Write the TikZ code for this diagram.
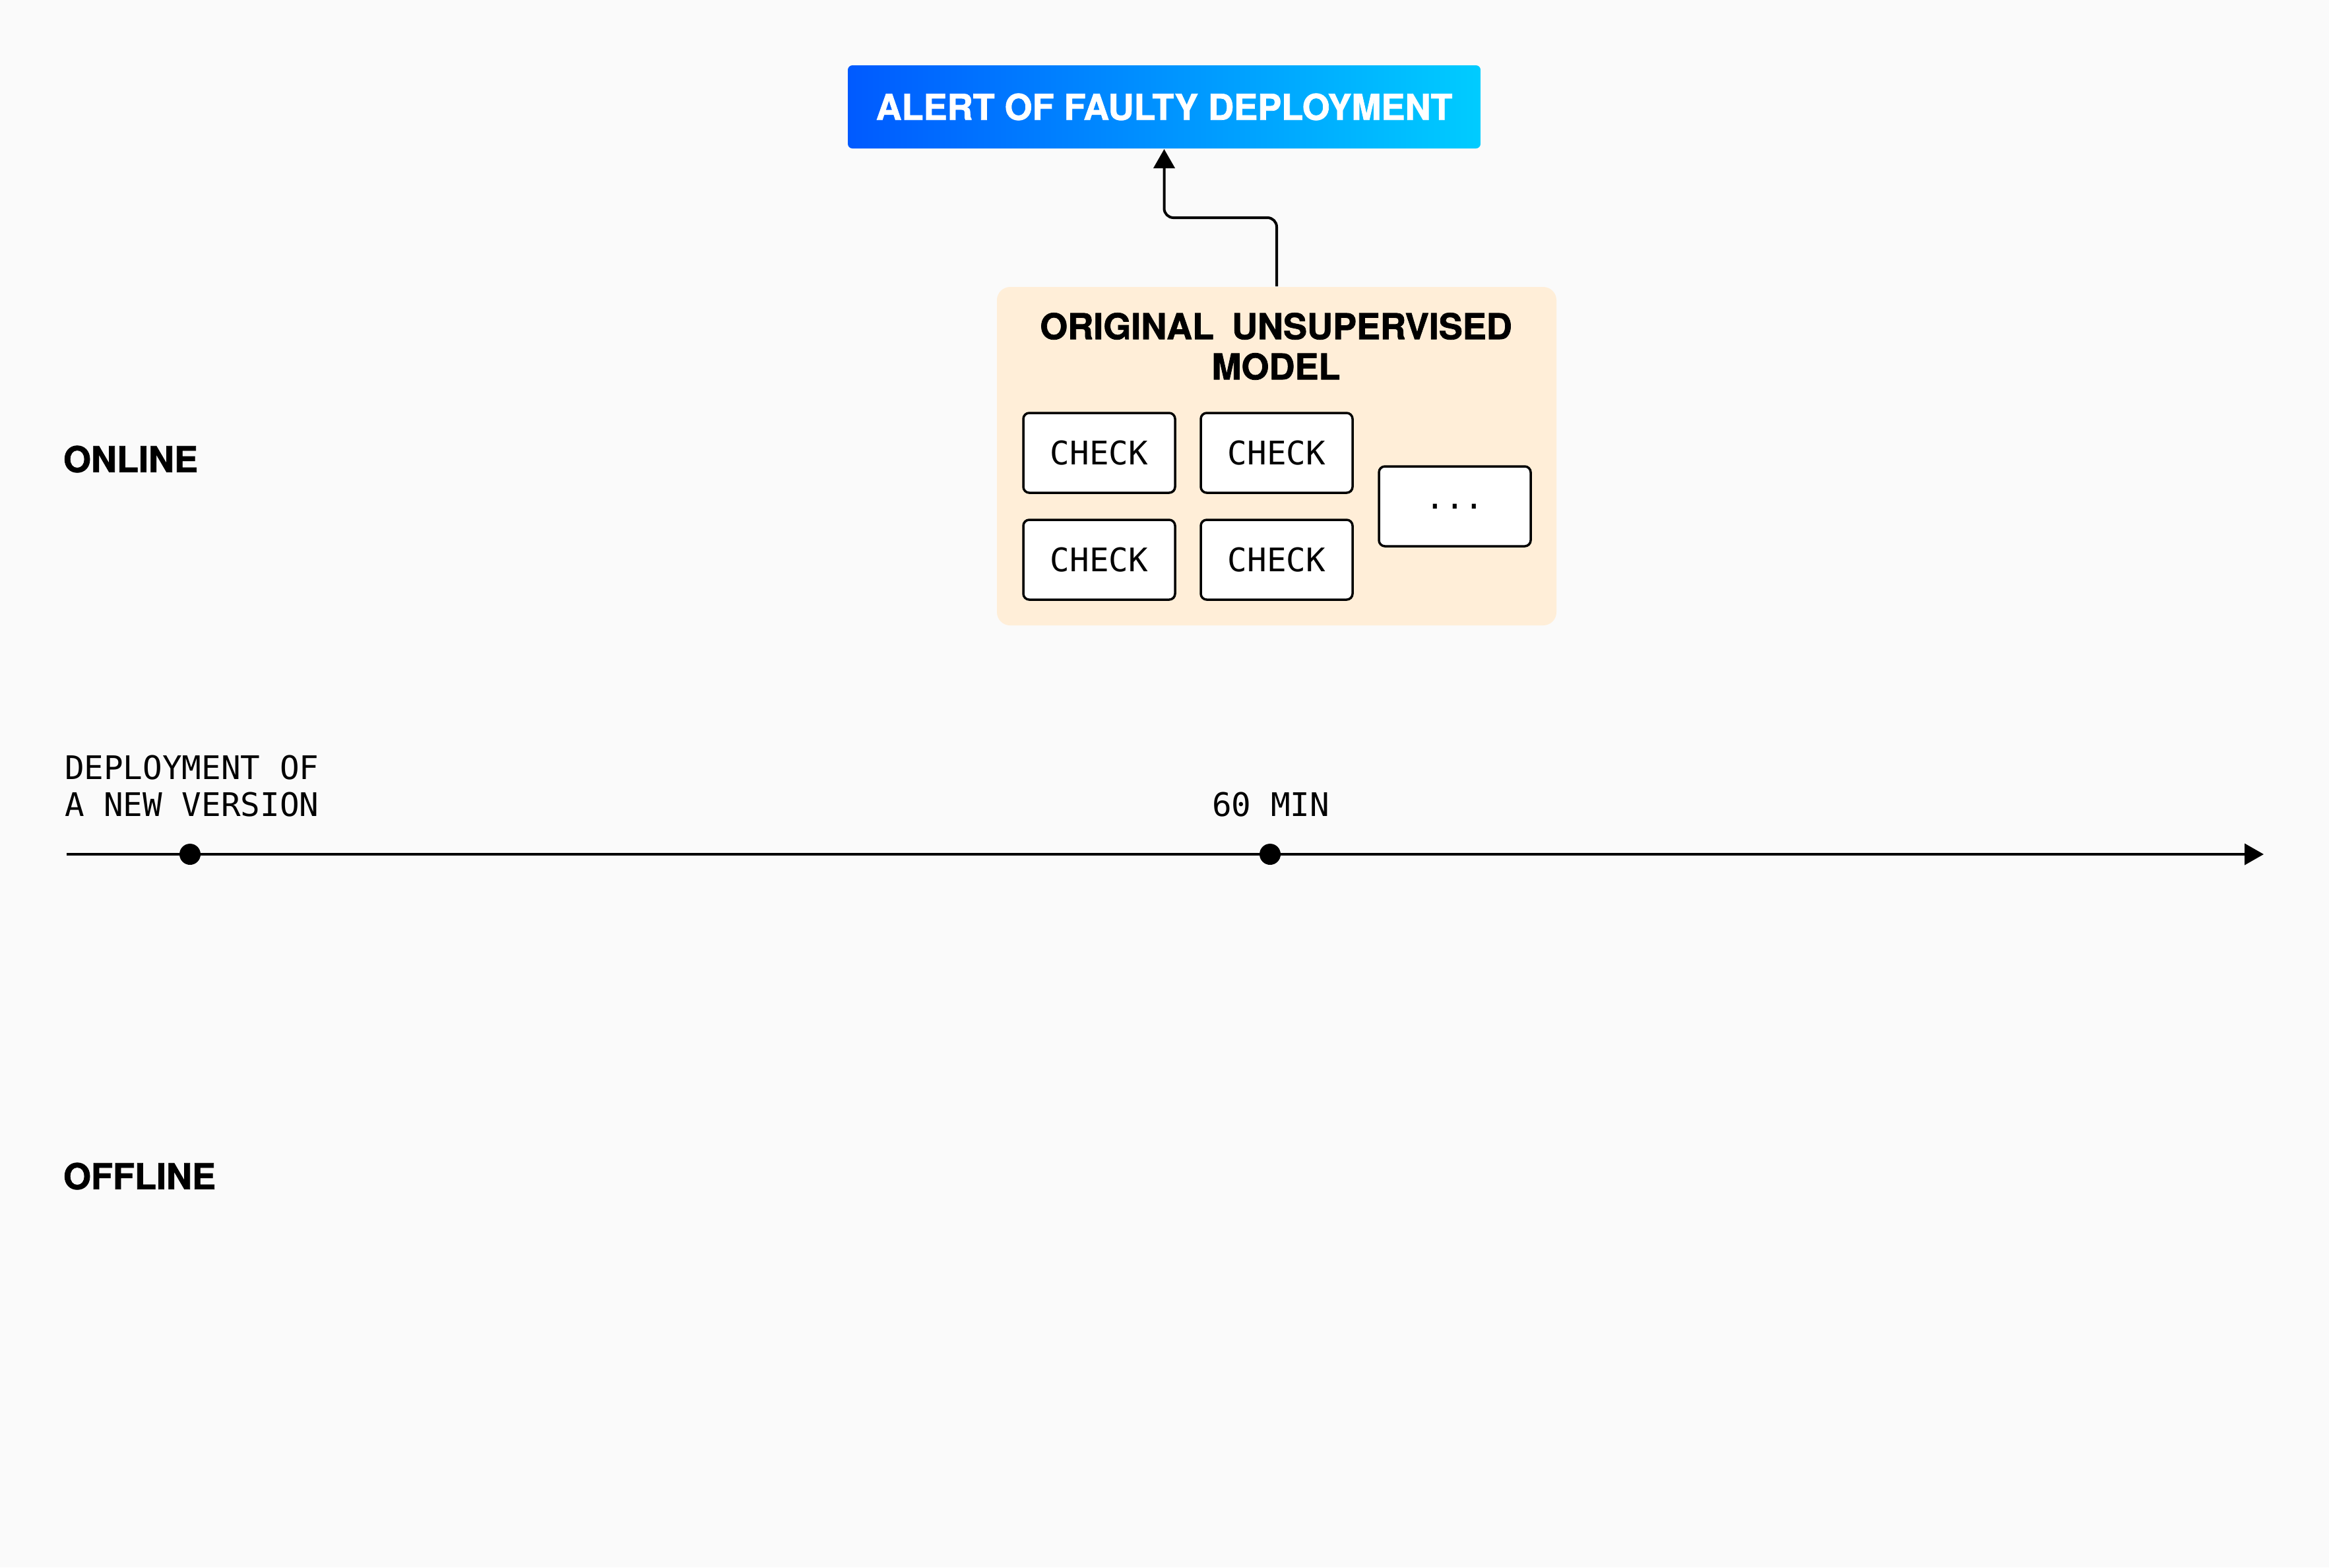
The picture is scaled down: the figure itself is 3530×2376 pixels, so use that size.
\documentclass[tikz,border=0pt]{standalone}
\usepackage{fontspec}
\setmainfont{TeX Gyre Heros}[BoldFeatures={FakeBold=1.4}]
\newfontfamily\monofont{DejaVu Sans Mono}
\usetikzlibrary{arrows.meta,calc}
\definecolor{bgc}{HTML}{FAFAFA}
\definecolor{alertL}{HTML}{005AFF}
\definecolor{alertR}{HTML}{00CCFF}
\definecolor{modelfill}{HTML}{FFEED8}
\begin{document}
\begin{tikzpicture}[x=0.2pt,y=-0.2pt,
  boldlab/.style={font=\bfseries\fontsize{10.8pt}{12.2pt}\selectfont, inner sep=0pt},
  monolab/.style={font=\monofont\fontsize{9.85pt}{11.2pt}\selectfont, inner sep=0pt},
  checkbox/.style={draw=black, line width=0.7pt, fill=white, rounded corners=1.8pt,
    minimum width=46pt, minimum height=24.2pt, inner sep=0pt, monolab},
  conn/.style={line width=0.8pt, -{Triangle[length=5.8pt,width=6.4pt]}},
  tldot/.style={circle, fill=black, inner sep=0pt, minimum size=6.4pt}]
\fill[bgc] (0,0) rectangle (3530,2376);
\useasboundingbox (0,0) rectangle (3530,2376);
% alert
\node[left color=alertL, right color=alertR, rounded corners=1.4pt,
  minimum width=191.8pt, minimum height=25.2pt, text=white, boldlab] (alert)
  at (1764.5,162) {ALERT OF FAULTY DEPLOYMENT};
% model container
\node[fill=modelfill, rounded corners=4pt, minimum width=169.6pt,
  minimum height=102.6pt, inner sep=0pt] (model) at (1935,691.5) {};
\node[boldlab, align=center] (title) at (1934,525) {ORIGINAL\hspace{0.5em}UNSUPERVISED\\MODEL};
\node[checkbox] (c1) at (1666,686.5) {CHECK};
\node[checkbox] (c2) at (1935,686.5) {CHECK};
\node[checkbox] (c3) at (1666,848.5) {CHECK};
\node[checkbox] (c4) at (1935,848.5) {CHECK};
\node[checkbox] (more) at (2205,767.5) {...};
% connector
\draw[conn, rounded corners=2.8pt] (model.north)
  -- ($(model.north)!0.5!(model.north|-alert.south)$) -| (alert.south);
% side labels
\node[boldlab, anchor=west] (online) at (95,696) {ONLINE};
\node[boldlab, anchor=west] (offline) at (95,1783) {OFFLINE};
% timeline
\coordinate (tlstart) at (101,1295);
\coordinate (tlend) at (3431,1295);
\draw[conn] (tlstart) -- (tlend);
\node[tldot] (d0) at (288,1295) {};
\node[tldot] (d60) at (1925,1295) {};
\node[monolab, anchor=west, align=left] (deplab) at (97,1192) {DEPLOYMENT OF\\A NEW VERSION};
\node[monolab] (minlab) at (1926,1220) {60 MIN};
\end{tikzpicture}
\end{document}
